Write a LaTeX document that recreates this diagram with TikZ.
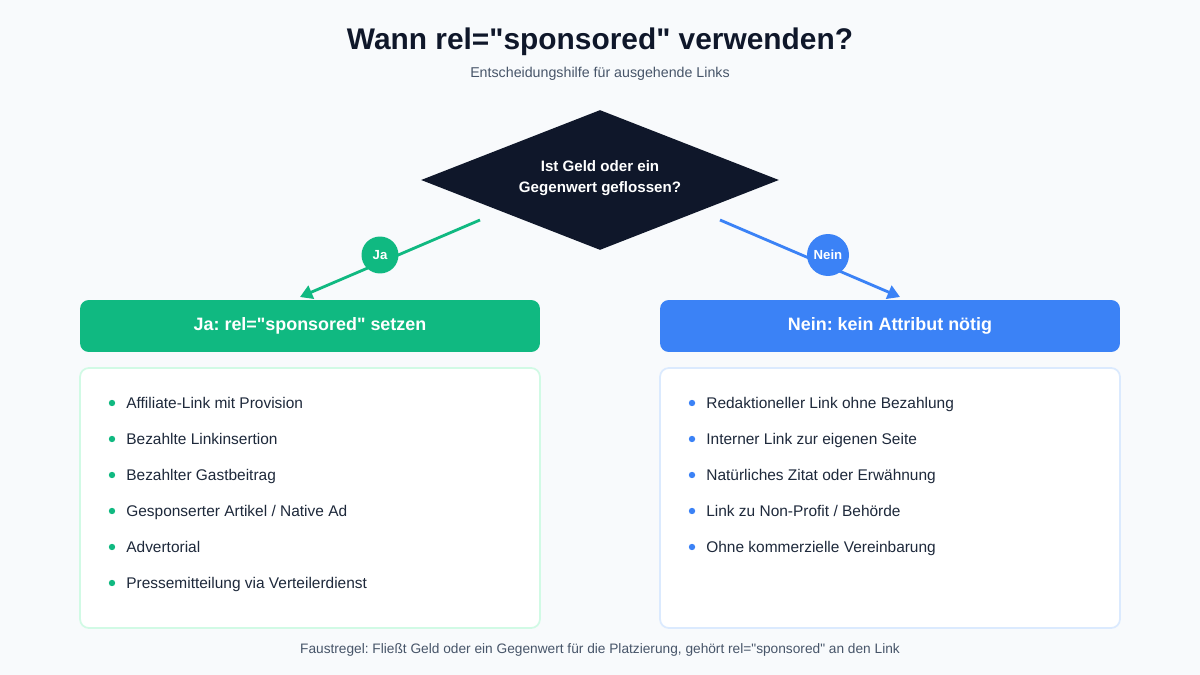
\documentclass[tikz,border=0pt]{standalone}
\usepackage{fontspec}
\setmainfont[Ligatures=TeXOff]{Liberation Sans}
\usetikzlibrary{arrows.meta, positioning, shapes.geometric}
\definecolor{ink}{HTML}{0F172A}
\definecolor{txt}{HTML}{1E293B}
\definecolor{muted}{HTML}{475569}
\definecolor{green}{HTML}{10B981}
\definecolor{blue}{HTML}{3B82F6}
\definecolor{greenline}{HTML}{D1FAE5}
\definecolor{blueline}{HTML}{DBEAFE}
\definecolor{bg}{HTML}{F8FAFC}
\tikzset{
  header/.style={rounded corners=5pt, minimum width=9.2cm, minimum height=1.04cm, text=white, font=\fontsize{10.2}{12}\selectfont\bfseries},
  listbox/.style={rounded corners=5pt, fill=white, line width=1pt, minimum width=9.2cm, minimum height=5.2cm},
  item/.style={anchor=base west, text=txt, font=\fontsize{8.8}{10}\selectfont, inner sep=0pt},
  badge/.style={circle, text=white, font=\fontsize{7.5}{9}\selectfont\bfseries, inner sep=0pt},
  flow/.style={line width=1.6pt, -{Triangle[length=7pt, width=8pt]}}
}

\begin{document}
\frenchspacing
\begin{tikzpicture}[x=0.02cm, y=-0.02cm]
    \fill[bg] (0,0) rectangle (1200,675);
    \useasboundingbox (0,0) rectangle (1200,675);

    \node[text=ink, font=\fontsize{17}{20}\selectfont\bfseries] (title) at (600,42) {Wann rel="sponsored" verwenden?};
    \node[text=muted, font=\fontsize{8.1}{10}\selectfont] (subtitle) at (600,74) {Entscheidungshilfe für ausgehende Links};

    % decision
    \node[diamond, fill=ink, minimum width=7.16cm, minimum height=2.8cm, inner sep=0pt] (q) at (600,180) {};
    \node[text=white, align=center, font=\fontsize{8.6}{12}\selectfont\bfseries] (qtext) at (600,178) {Ist Geld oder ein\\Gegenwert geflossen?};

    \coordinate (ja start) at (480,220);
    \coordinate (ja end) at (300,297);
    \coordinate (nein start) at (720,220);
    \coordinate (nein end) at (900,297);
    \draw[flow, green] (ja start) -- (ja end);
    \draw[flow, blue] (nein start) -- (nein end);
    \node[badge, fill=green, minimum size=0.74cm] (ja) at (380,255) {Ja};
    \node[badge, fill=blue, minimum size=0.84cm] (nein) at (828,255) {Nein};

    % headers
    \node[header, fill=green] (left head) at (310,326) {Ja: rel="sponsored" setzen};
    \node[header, fill=blue] (right head) at (890,326) {Nein: kein Attribut nötig};

    % lists
    \node[listbox, draw=greenline] (left list) at (310,498) {};
    \node[listbox, draw=blueline] (right list) at (890,498) {};

    \foreach \t [count=\i] in {Affiliate-Link mit Provision, Bezahlte Linkinsertion, Bezahlter Gastbeitrag, Gesponserter Artikel / Native Ad, Advertorial, Pressemitteilung via Verteilerdienst}{
        \fill[green] (112,367+36*\i) circle (3.2);
        \node[item] (left item \i) at (126,372+36*\i) {\t};
    }
    \foreach \t [count=\i] in {Redaktioneller Link ohne Bezahlung, Interner Link zur eigenen Seite, Natürliches Zitat oder Erwähnung, Link zu Non-Profit / Behörde, Ohne kommerzielle Vereinbarung}{
        \fill[blue] (692,367+36*\i) circle (3.2);
        \node[item] (right item \i) at (706,372+36*\i) {\t};
    }

    \node[text=muted, font=\fontsize{7.8}{9}\selectfont] (footer) at (600,650) {Faustregel: Fließt Geld oder ein Gegenwert für die Platzierung, gehört rel="sponsored" an den Link};
\end{tikzpicture}
\end{document}
